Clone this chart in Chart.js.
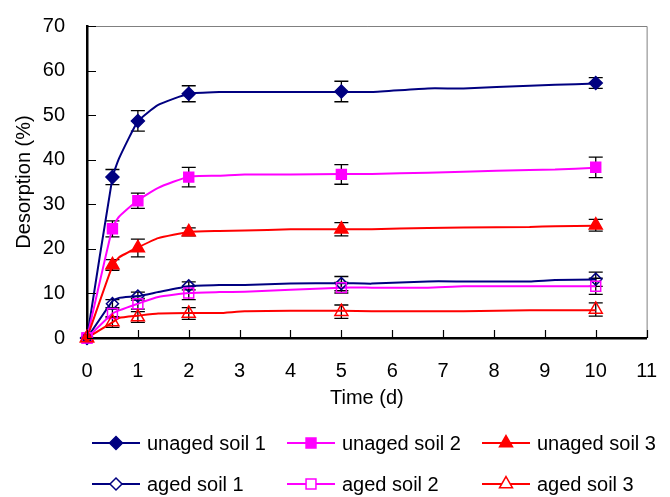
<!DOCTYPE html>
<html>
<head>
<meta charset="utf-8">
<script src="https://cdn.jsdelivr.net/npm/chart.js@4.4.0/dist/chart.umd.min.js"></script>
<style>
  html, body { margin: 0; padding: 0; background: #fff; }
</style>
</head>
<body>
<canvas id="chart" width="670" height="497"></canvas>
<script>
// measured days and mean desorption (%) with error bars
const sampleDays = [0, 0.5, 1, 2, 5, 10];

const unaged1 = [0, 36.1, 48.7, 54.8, 55.3, 57.2];
const unaged2 = [0, 24.5, 30.8, 36.1, 36.7, 38.3];
const unaged3 = [0, 16.4, 20.2, 23.8, 24.4, 25.3];
const aged1 = [0, 7.7, 9.4, 11.7, 12.2, 13.2];
const aged2 = [0, 5.5, 7.7, 10.1, 11.3, 11.6];
const aged3 = [0, 3.6, 4.7, 5.5, 5.9, 6.4];

const unaged1Err = [0, 1.7, 2.3, 1.8, 2.3, 1.2];
const unaged2Err = [0, 1.8, 1.7, 2.2, 2.2, 2.3];
const unaged3Err = [0, 1.2, 2.0, 0.9, 1.5, 1.3];
const aged1Err = [0, 0.9, 0.9, 0.9, 1.6, 1.6];
const aged2Err = [0, 1.0, 1.2, 1.5, 1.2, 1.8];
const aged3Err = [0, 1.2, 1.2, 1.3, 1.5, 1.5];

// fitted curves
const curveDays = [0, 0.5, 0.63, 1, 1.4, 2, 2.6, 3.1, 4, 5, 5.6, 6.7, 7.4, 8.7, 9.2, 10];
const unaged1Fit = [0, 36, 40.3, 48.6, 52.3, 54.8, 55.2, 55.2, 55.2, 55.2, 55.2, 56.0, 56.0, 56.6, 56.8, 57.1];
const unaged2Fit = [0, 24.7, 27.2, 30.9, 33.7, 36.2, 36.4, 36.7, 36.7, 36.8, 36.8, 37.1, 37.3, 37.7, 37.8, 38.2];
const unaged3Fit = [0, 16.2, 18.1, 20.3, 22.4, 23.8, 24.0, 24.1, 24.4, 24.4, 24.4, 24.7, 24.8, 24.9, 25.1, 25.2];
const aged1Fit = [0, 8.3, 9.0, 9.4, 10.3, 11.6, 11.9, 11.9, 12.2, 12.3, 12.2, 12.7, 12.7, 12.7, 13.0, 13.1];
const aged2Fit = [0, 5.5, 6.2, 7.7, 9.2, 10.1, 10.3, 10.4, 10.8, 11.3, 11.3, 11.3, 11.6, 11.6, 11.6, 11.6];
const aged3Fit = [0, 3.5, 4.5, 5.0, 5.5, 5.6, 5.6, 6.0, 6.1, 6.1, 6.0, 6.0, 6.0, 6.2, 6.2, 6.2];

const seriesNames = ['unaged soil 1', 'unaged soil 2', 'unaged soil 3', 'aged soil 1', 'aged soil 2', 'aged soil 3'];
const xTicks = [0, 1, 2, 3, 4, 5, 6, 7, 8, 9, 10, 11];
const yTicks = [0, 10, 20, 30, 40, 50, 60, 70];

const FONT = 'Liberation Sans, Arial, sans-serif';
const NAVY = '#000080', PINK = '#ff00ff', RED = '#ff0000';

const series = [
  { means: unaged1, errs: unaged1Err, fit: unaged1Fit, color: NAVY, style: 'rectRot', radius: 6.5, filled: true },
  { means: unaged2, errs: unaged2Err, fit: unaged2Fit, color: PINK, style: 'rect', radius: 7, filled: true },
  { means: unaged3, errs: unaged3Err, fit: unaged3Fit, color: RED, style: 'triangle', radius: 7.5, filled: true },
  { means: aged1, errs: aged1Err, fit: aged1Fit, color: NAVY, style: 'rectRot', radius: 6, filled: false },
  { means: aged2, errs: aged2Err, fit: aged2Fit, color: PINK, style: 'rect', radius: 7, filled: false },
  { means: aged3, errs: aged3Err, fit: aged3Fit, color: RED, style: 'triangle', radius: 7.5, filled: false }
];

const datasets = [];
// later series sit on top, like the original
series.forEach((s, i) => {
  datasets.push({
    label: seriesNames[i],
    data: sampleDays.map((d, j) => ({ x: d, y: s.means[j] })),
    errs: s.errs,
    showLine: false,
    clip: false,
    pointStyle: s.style,
    pointRadius: s.radius,
    pointBorderWidth: 1.5,
    pointBorderColor: s.color,
    pointBackgroundColor: s.filled ? s.color : 'rgba(0,0,0,0)',
    order: 6 - i
  });
});
series.forEach((s, i) => {
  datasets.push({
    label: seriesNames[i] + ' fit',
    data: curveDays.map((d, j) => ({ x: d, y: s.fit[j] })),
    showLine: true,
    borderColor: s.color,
    borderWidth: 2,
    tension: 0.15,
    pointRadius: 0,
    order: 20 - i
  });
});

// error bars drawn under the markers
const errorBars = {
  id: 'errorBars',
  beforeDatasetsDraw(chart) {
    const { ctx, scales: { x, y } } = chart;
    ctx.save();
    ctx.strokeStyle = '#000';
    ctx.lineWidth = 1.3;
    chart.data.datasets.forEach(ds => {
      if (!ds.errs) return;
      ds.data.forEach((p, j) => {
        const e = ds.errs[j];
        if (!e) return;
        const px = x.getPixelForValue(p.x);
        const top = y.getPixelForValue(p.y + e);
        const bot = y.getPixelForValue(p.y - e);
        ctx.beginPath();
        ctx.moveTo(px, top); ctx.lineTo(px, bot);
        ctx.moveTo(px - 7, top); ctx.lineTo(px + 7, top);
        ctx.moveTo(px - 7, bot); ctx.lineTo(px + 7, bot);
        ctx.stroke();
      });
    });
    ctx.restore();
  }
};

// plot frame, inward tick marks and the legend
const frame = {
  id: 'frame',
  beforeDraw(chart) {
    const { ctx, chartArea: a } = chart;
    ctx.save();
    ctx.strokeStyle = '#808080';
    ctx.lineWidth = 1;
    ctx.beginPath();
    ctx.moveTo(a.left, a.top + 0.5); ctx.lineTo(a.right + 0.5, a.top + 0.5);
    ctx.lineTo(a.right + 0.5, a.bottom);
    ctx.stroke();
    ctx.restore();
  },
  afterDraw(chart) {
    const { ctx, chartArea: a, scales: { x, y } } = chart;
    ctx.save();
    ctx.strokeStyle = '#000';
    ctx.lineWidth = 1.2;
    ctx.beginPath();
    x.ticks.forEach(t => {
      const px = Math.round(x.getPixelForValue(t.value)) + 0.5;
      ctx.moveTo(px, a.bottom); ctx.lineTo(px, a.bottom - 8);
    });
    y.ticks.forEach(t => {
      const py = Math.round(y.getPixelForValue(t.value)) + 0.5;
      ctx.moveTo(a.left, py); ctx.lineTo(a.left + 9, py);
    });
    ctx.stroke();

    // legend: 3 columns x 2 rows
    const cols = [92, 287, 482];
    const rows = [443, 484];
    ctx.font = '20px ' + FONT;
    ctx.textBaseline = 'middle';
    ctx.fillStyle = '#000';
    series.forEach((s, i) => {
      const lx = cols[i % 3], ly = rows[Math.floor(i / 3)];
      ctx.strokeStyle = s.color;
      ctx.lineWidth = 2;
      ctx.beginPath();
      ctx.moveTo(lx, ly); ctx.lineTo(lx + 48, ly);
      ctx.stroke();
      ctx.fillStyle = s.filled ? s.color : '#fff';
      ctx.strokeStyle = s.color;
      ctx.lineWidth = 1.5;
      Chart.helpers.drawPoint(ctx, { pointStyle: s.style, radius: s.radius, rotation: 0, borderWidth: 1.5 }, lx + 24, ly);
      ctx.fillStyle = '#000';
      ctx.fillText(seriesNames[i], lx + 55, ly + 1);
    });
    ctx.restore();
  }
};

new Chart(document.getElementById('chart'), {
  type: 'scatter',
  data: { datasets },
  plugins: [errorBars, frame],
  options: {
    responsive: false,
    animation: false,
    events: [],
    layout: { padding: { top: 23, right: 10, bottom: 87, left: 0 } },
    plugins: { legend: { display: false }, tooltip: { enabled: false } },
    scales: {
      x: {
        type: 'linear', min: 0, max: 11,
        afterBuildTicks: s => { s.ticks = xTicks.map(v => ({ value: v })); },
        afterFit: s => { s.height = 72; },
        grid: { display: false },
        border: { display: true, color: '#000', width: 2.5 },
        ticks: { autoSkip: false, maxRotation: 0, padding: 13, color: '#000', font: { family: FONT, size: 20 } },
        title: { display: true, text: 'Time (d)', color: '#000', font: { family: FONT, size: 20 }, padding: { top: 0, bottom: 0 } }
      },
      y: {
        type: 'linear', min: 0, max: 70,
        afterBuildTicks: s => { s.ticks = yTicks.map(v => ({ value: v })); },
        afterFit: s => { s.width = 87; },
        grid: { display: false },
        border: { display: true, color: '#000', width: 2.5 },
        ticks: { padding: 14, color: '#000', font: { family: FONT, size: 20 } },
        title: { display: true, text: 'Desorption (%)', color: '#000', font: { family: FONT, size: 20 }, padding: { top: 12, bottom: 0 } }
      }
    }
  }
});
</script>
</body>
</html>
